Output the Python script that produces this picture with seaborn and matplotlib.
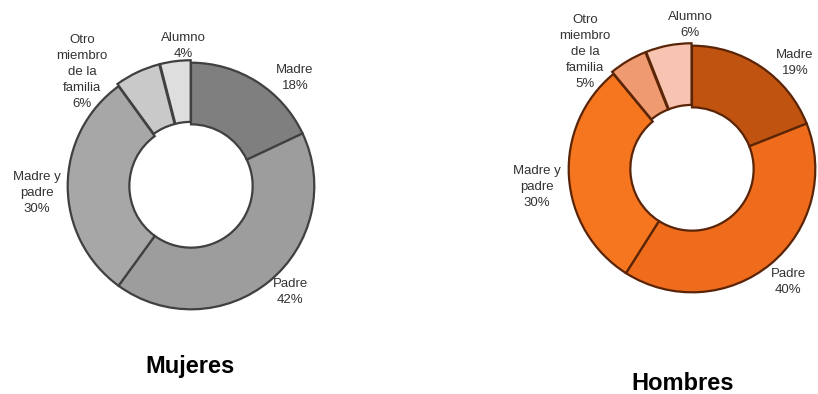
import matplotlib
matplotlib.use("Agg")
import matplotlib.pyplot as plt
import seaborn as sns

sns.set_theme(style="white")
plt.rcParams['font.family'] = ['Liberation Sans', 'DejaVu Sans']

categories = ["Madre", "Padre", "Madre y padre", "Otro miembro de la familia", "Alumno"]
label_texts = ["Madre", "Padre", "Madre y\npadre", "Otro\nmiembro\nde la\nfamilia", "Alumno"]
mujeres = [18, 42, 30, 6, 4]
hombres = [19, 40, 30, 5, 6]
titles = ["Mujeres", "Hombres"]

grey_colors = ["#7f7f7f", "#9d9d9d", "#a7a7a7", "#c9c9c9", "#dedede"]
orange_colors = ["#c0530f", "#ee6c1c", "#f5761f", "#ef9a70", "#f6c4b0"]
explode = [0, 0, 0, 0.02, 0.02]

W, H = 818, 394
fig = plt.figure(figsize=(W / 100, H / 100), dpi=100)

def add_donut(cx, cy, r, values, colors, edge, label_pos, title, title_pos):
    ax = fig.add_axes([(cx - r) / W, (H - cy - r) / H, 2 * r / W, 2 * r / H])
    wedges, _ = ax.pie(values, colors=colors, startangle=90, counterclock=False,
                       radius=1, explode=explode,
                       wedgeprops=dict(width=0.5, edgecolor=edge, linewidth=1.6))
    ax.set_xlim(-1.03, 1.03)
    ax.set_ylim(-1.03, 1.03)
    ax.axis("off")
    for txt, v, (px, py) in zip(label_texts, values, label_pos):
        fig.text(px / W, 1 - py / H, f"{txt}\n{v}%", ha="center", va="center",
                 fontsize=9.5, color="#333333", linespacing=1.45)
    fig.text(title_pos[0] / W, 1 - title_pos[1] / H, title, ha="center", va="center",
             fontsize=17, fontweight="bold", color="black")

add_donut(191, 186, 127, mujeres, grey_colors, "#404040",
          [(295, 78), (290, 292), (37, 193), (82, 72), (183, 46)],
          titles[0], (190, 366))
add_donut(692, 169, 127, hombres, orange_colors, "#5a2406",
          [(795, 63), (788, 282), (537, 187), (585, 52), (690, 25)],
          titles[1], (683, 383))

fig.savefig("out.png", dpi=100, facecolor="white")
